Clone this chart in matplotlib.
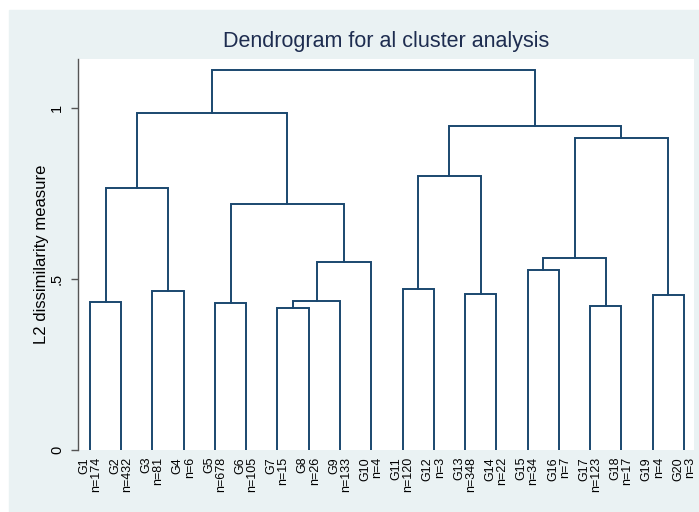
import matplotlib.pyplot as plt
from matplotlib.patches import Rectangle

# leaf labels and cluster sizes
groups = [f"G{i}" for i in range(1, 21)]
sizes = [174, 432, 81, 6, 678, 105, 15, 26, 133, 4,
         120, 3, 348, 22, 34, 7, 123, 17, 4, 3]

# merges: (left node, right node); leaves are 0-19, new nodes numbered from 20
merge_left = [0, 2, 20, 4, 6, 24, 25, 23, 22, 10, 12, 29, 14, 16, 32, 18, 34, 31, 28]
merge_right = [1, 3, 21, 5, 7, 8, 9, 26, 27, 11, 13, 30, 15, 17, 33, 19, 35, 36, 37]
merge_height = [0.432, 0.464, 0.766, 0.429, 0.416, 0.436, 0.550, 0.720, 0.984,
                0.470, 0.457, 0.802, 0.526, 0.421, 0.562, 0.453, 0.912, 0.948, 1.111]

line_col = "#1a476f"
bg_col = "#eaf2f3"
plt.rcParams['font.family'] = ['Liberation Sans', 'DejaVu Sans']

fig = plt.figure(figsize=(6.99, 5.12), dpi=100)
fig.patches.append(Rectangle((9 / 699, 0), 1 - 9 / 699, (512 - 10) / 512,
                             transform=fig.transFigure, color=bg_col, zorder=-1))
ax = fig.add_axes([78 / 699, 62 / 512, 616 / 699, 391 / 512])
ax.set_facecolor("white")

# node positions
xpos = {i: i + 1 for i in range(len(groups))}
ypos = {i: 0.0 for i in range(len(groups))}
for k, (a, b, h) in enumerate(zip(merge_left, merge_right, merge_height)):
    node = len(groups) + k
    ax.plot([xpos[a], xpos[a], xpos[b], xpos[b]], [ypos[a], h, h, ypos[b]],
            color=line_col, lw=1.4, solid_joinstyle='miter')
    xpos[node] = (xpos[a] + xpos[b]) / 2
    ypos[node] = h

ax.set_xlim(0.62, 20.32)
ax.set_ylim(0, 1.143)
ax.set_xticks(range(1, 21))
ax.set_xticklabels([f"{g}\nn={n}" for g, n in zip(groups, sizes)], rotation=90,
                   fontsize=9, ha='center', va='top', multialignment='right',
                   linespacing=1.0)
ax.tick_params(axis='x', length=0, pad=5)
ax.set_yticks([0, 0.5, 1])
ax.set_yticklabels(["0", ".5", "1"], rotation=90, va='center', fontsize=10.5)
ax.tick_params(axis='y', length=5, color="#555555", width=1, pad=5)

for s in ['top', 'right', 'bottom']:
    ax.spines[s].set_visible(False)
ax.spines['left'].set_color("#555555")
ax.spines['left'].set_linewidth(1)

ax.set_ylabel("L2 dissimilarity measure", fontsize=12, labelpad=1)
fig.text((78 + 694) / 2 / 699, 1 - 42 / 512, "Dendrogram for al cluster analysis",
         ha='center', va='center', fontsize=15.5, color="#1e2d50")

fig.savefig("out.png", dpi=100)
